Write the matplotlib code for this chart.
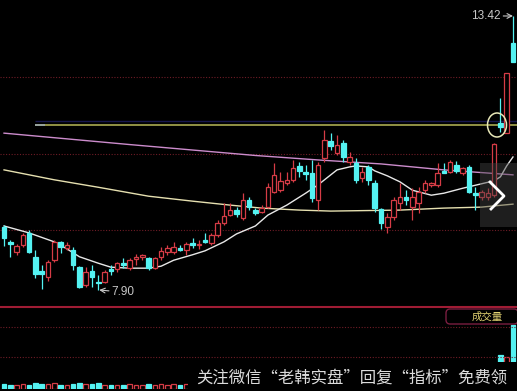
import numpy as np
import matplotlib
matplotlib.use('Agg')
import matplotlib.pyplot as plt
from matplotlib.patches import Rectangle, Ellipse, FancyBboxPatch
from matplotlib.lines import Line2D

# daily bars, oldest first
opens = [9.17, 8.87, 8.67, 8.81, 9.05, 8.57, 8.28, 8.16, 8.50, 8.87,
         8.75, 8.71, 8.36, 8.00, 8.28, 8.06, 8.06, 8.32, 8.32, 8.44,
         8.34, 8.52, 8.57, 8.54, 8.34, 8.57, 8.67, 8.67, 8.75, 8.71,
         8.85, 8.81, 8.91, 8.85, 9.01, 9.25, 9.41, 9.51, 9.35, 9.71,
         9.51, 9.47, 9.57, 9.87, 9.91, 10.06, 10.12, 10.40, 10.28, 10.26,
         9.71, 10.56, 10.90, 10.66, 10.86, 10.48, 10.46, 10.16, 10.38, 10.06,
         9.53, 9.17, 9.37, 9.65, 9.77, 9.57, 9.65, 9.91, 10.02, 10.02,
         10.30, 10.28, 10.42, 10.26, 10.38, 9.85, 9.77, 9.77, 9.81, 11.26,
         11.06, 12.88]
highs = [9.21, 8.91, 8.83, 9.05, 9.11, 8.71, 8.40, 8.50, 8.91, 8.89,
         8.87, 8.77, 8.38, 8.36, 8.40, 8.20, 8.30, 8.40, 8.46, 8.54,
         8.54, 8.63, 8.63, 8.57, 8.57, 8.77, 8.81, 8.87, 8.81, 8.87,
         8.95, 8.91, 9.05, 9.05, 9.31, 9.65, 9.65, 9.57, 9.85, 9.77,
         9.55, 9.61, 10.06, 10.46, 10.28, 10.28, 10.52, 10.48, 10.42, 10.52,
         10.48, 11.12, 11.06, 11.02, 10.92, 10.68, 10.56, 10.38, 10.42, 10.12,
         9.55, 9.45, 9.77, 10.06, 9.91, 9.95, 9.97, 10.12, 10.08, 10.46,
         10.46, 10.52, 10.50, 10.38, 10.42, 9.97, 9.91, 9.95, 10.86, 11.77,
         12.27, 13.42]
lows = [8.79, 8.57, 8.61, 8.77, 8.65, 8.14, 7.92, 8.08, 8.46, 8.65,
        8.71, 8.30, 7.94, 7.96, 7.96, 7.90, 8.04, 8.20, 8.26, 8.34,
        8.30, 8.40, 8.50, 8.30, 8.32, 8.50, 8.61, 8.63, 8.69, 8.61,
        8.75, 8.73, 8.85, 8.81, 8.97, 9.21, 9.39, 9.37, 9.31, 9.51,
        9.41, 9.45, 9.55, 9.85, 9.87, 10.02, 10.08, 10.18, 10.12, 9.67,
        9.51, 10.48, 10.72, 10.62, 10.48, 10.42, 10.06, 10.08, 10.02, 9.47,
        9.13, 9.05, 9.31, 9.51, 9.61, 9.31, 9.45, 9.85, 9.97, 9.97,
        10.26, 10.26, 10.26, 10.22, 9.85, 9.51, 9.71, 9.71, 9.77, 11.08,
        11.06, 12.49]
closes = [8.95, 8.83, 8.79, 9.01, 8.67, 8.22, 8.22, 8.46, 8.87, 8.77,
          8.81, 8.40, 7.96, 8.26, 8.16, 8.04, 8.26, 8.28, 8.44, 8.40,
          8.50, 8.57, 8.61, 8.34, 8.54, 8.69, 8.75, 8.77, 8.71, 8.83,
          8.81, 8.83, 8.87, 9.01, 9.25, 9.39, 9.51, 9.43, 9.71, 9.57,
          9.45, 9.55, 9.97, 10.22, 10.10, 10.12, 10.36, 10.30, 10.24, 9.75,
          10.42, 10.92, 10.80, 10.82, 10.58, 10.58, 10.12, 10.28, 10.12, 9.55,
          9.25, 9.37, 9.71, 9.77, 9.71, 9.77, 9.87, 10.06, 10.06, 10.26,
          10.25, 10.48, 10.30, 10.36, 9.87, 9.81, 9.87, 9.85, 10.84, 11.18,
          12.27, 12.49]
volumes = [5, 4, 4, 5, 4, 6, 5, 5, 6, 4, 4, 5, 6, 5, 5, 6, 4, 4, 4, 4,
           5, 4, 4, 5, 4, 5, 4, 5, 4, 5,
           5, 4, 5, 6, 8, 10, 7, 6, 11, 8, 6, 5, 12, 15, 10, 8, 12, 9, 7, 16,
           18, 20, 14, 12, 13, 10, 14, 9, 10, 15, 16, 12, 13, 14, 9, 12, 11, 9,
           8, 12, 8, 10, 9, 7, 12, 10, 8, 7, 24,
           34, 32, 64]

# moving averages, sampled at bar index
ma_short_idx = [0, 4, 8, 10, 12, 15, 17, 20, 23, 25, 27, 30, 32, 35, 37, 40, 42, 45, 48,
                50, 51, 53, 55, 56, 58, 59, 61, 63, 65, 68, 70, 73, 76, 78, 79, 80, 81]
ma_short = [9.19, 9.05, 8.87, 8.73, 8.57, 8.44, 8.36, 8.34, 8.34, 8.38, 8.50, 8.61, 8.69,
            8.87, 9.03, 9.19, 9.41, 9.61, 9.85, 10.02, 10.12, 10.32, 10.38, 10.40, 10.38,
            10.30, 10.20, 10.08, 9.91, 9.81, 9.85, 9.95, 10.04, 10.10, 10.18, 10.40, 10.58]
ma_mid_idx = [0, 8, 15, 23, 30, 36, 41, 47, 52, 63, 70, 76, 81]
ma_mid = [10.32, 10.12, 9.97, 9.79, 9.69, 9.61, 9.55, 9.51, 9.49, 9.51, 9.55, 9.57, 9.63]
ma_long_idx = [0, 20, 40, 50, 60, 70, 81]
ma_long = [11.06, 10.83, 10.61, 10.52, 10.44, 10.32, 10.22]

resistance = 11.22
price_grid = [12.19, 10.64, 9.11]
vol_grid = [62, 32]
note = '关注微信“老韩实盘”回复“指标”免费领'

UP = '#d63c46'
DOWN = '#54f2f2'
W, H = 517, 391
CJK = ['Noto Sans CJK SC', 'DejaVu Sans']


def fx(x):
    return x / W


def fy(y):
    return 1 - y / H


def draw_bars(ax, o, h, l, c, width=0.72):
    for i in range(len(o)):
        up = c[i] >= o[i]
        col = UP if up else DOWN
        ax.vlines(i, l[i], h[i], color=col, lw=0.9, zorder=3)
        body = max(abs(c[i] - o[i]), 0.012)
        ax.bar(i, body, width, bottom=min(o[i], c[i]), facecolor='black' if up else col,
               edgecolor=col, lw=0.9, zorder=4)


def draw_volume(ax, o, c, v, width=0.72):
    for i in range(len(v)):
        up = c[i] >= o[i]
        col = UP if up else DOWN
        ax.bar(i, v[i], width, facecolor='black' if up else col, edgecolor=col, lw=0.9)


fig = plt.figure(figsize=(W / 100, H / 100), dpi=100, facecolor='black')
ax = fig.add_axes([0, fy(306), 1, 306 / H])
vax = fig.add_axes([0, fy(389), 1, (389 - 308) / H])
xlim = (-0.64, 81.64)
for a in (ax, vax):
    a.set_facecolor('black')
    a.set_xlim(*xlim)
    a.set_axis_off()
ax.set_ylim(7.578, 13.742)
vax.set_ylim(0, 81)

ax.hlines(price_grid, *xlim, color='#6e1c26', lw=0.8, ls=(0, (1, 1.5)))
vax.hlines(vol_grid, *xlim, color='#6e1c26', lw=0.8, ls=(0, (1, 1.5)))

ax.hlines(resistance + 0.08, 4.9, xlim[1], color='#16164e', lw=1.0)
ax.hlines(resistance, 4.9, xlim[1], color='#b8b858', lw=1.1)
ax.hlines(resistance, 4.9, 6.6, color='#9aa8b8', lw=1.1)

ax.plot(ma_long_idx, ma_long, color='#cc8ccc', lw=1.0, zorder=2)
ax.plot(ma_mid_idx, ma_mid, color='#e6e0b0', lw=1.0, zorder=2)
ax.plot(ma_short_idx, ma_short, color='#e8e8e8', lw=1.0, zorder=2)

draw_bars(ax, opens, highs, lows, closes)
draw_volume(vax, opens, closes, volumes)

lo_i = int(np.argmin(lows))
hi_i = int(np.argmax(highs))
ax.annotate(f'{lows[lo_i]:.2f}', xy=(lo_i + 0.15, lows[lo_i]), xytext=(9, -1.5),
            textcoords='offset points', ha='left', va='center', color='#c8c8c8',
            fontsize=8.5, family='Liberation Sans',
            arrowprops=dict(arrowstyle='->', color='#c8c8c8', lw=0.8, shrinkA=0, shrinkB=0))
ax.annotate(f'{highs[hi_i]:.2f}', xy=(hi_i, highs[hi_i]), xytext=(-9, 0),
            textcoords='offset points', ha='right', va='center', color='#c8c8c8',
            fontsize=8.5, family='Liberation Sans',
            arrowprops=dict(arrowstyle='->', color='#c8c8c8', lw=0.8, shrinkA=0, shrinkB=0))

# panel separator and volume tag
fig.add_artist(Line2D([0, 1], [fy(306.5), fy(306.5)], color='#a01c34', lw=1.5))
fig.add_artist(FancyBboxPatch((fx(446), fy(324)), 72 / W, 15 / H,
                              boxstyle='round,pad=0,rounding_size=0.008',
                              mutation_aspect=W / H, transform=fig.transFigure,
                              fc='black', ec='#7a1e40', lw=1.0))
fig.text(fx(487), fy(316.5), '成交量', color='#e2d272', fontsize=7.5, family=CJK,
         ha='center', va='center')

# circled gap bar
fig.add_artist(Ellipse((fx(497), fy(125)), 19 / W, 24 / H, transform=fig.transFigure,
                       fill=False, ec='#e8e8b8', lw=1.1))

# scroll handle on the right edge
fig.add_artist(Rectangle((fx(480), fy(227)), 37 / W, 64 / H, transform=fig.transFigure,
                         fc='#444444', alpha=0.45, zorder=6))
fig.add_artist(Line2D([fx(490), fx(504), fx(491)], [fy(182), fy(196), fy(209)],
                      color='white', lw=2.0, zorder=7))

# caption strip at the bottom
fig.add_artist(Rectangle((fx(188), 0), 1 - fx(188), fy(362), transform=fig.transFigure,
                         fc='black', ec='none', zorder=10))
fig.text(fx(196), fy(378), note, color='#dcdcdc', fontsize=11.8, family=CJK,
         ha='left', va='center', zorder=11)

plt.savefig('out.png', dpi=100, facecolor='black')
